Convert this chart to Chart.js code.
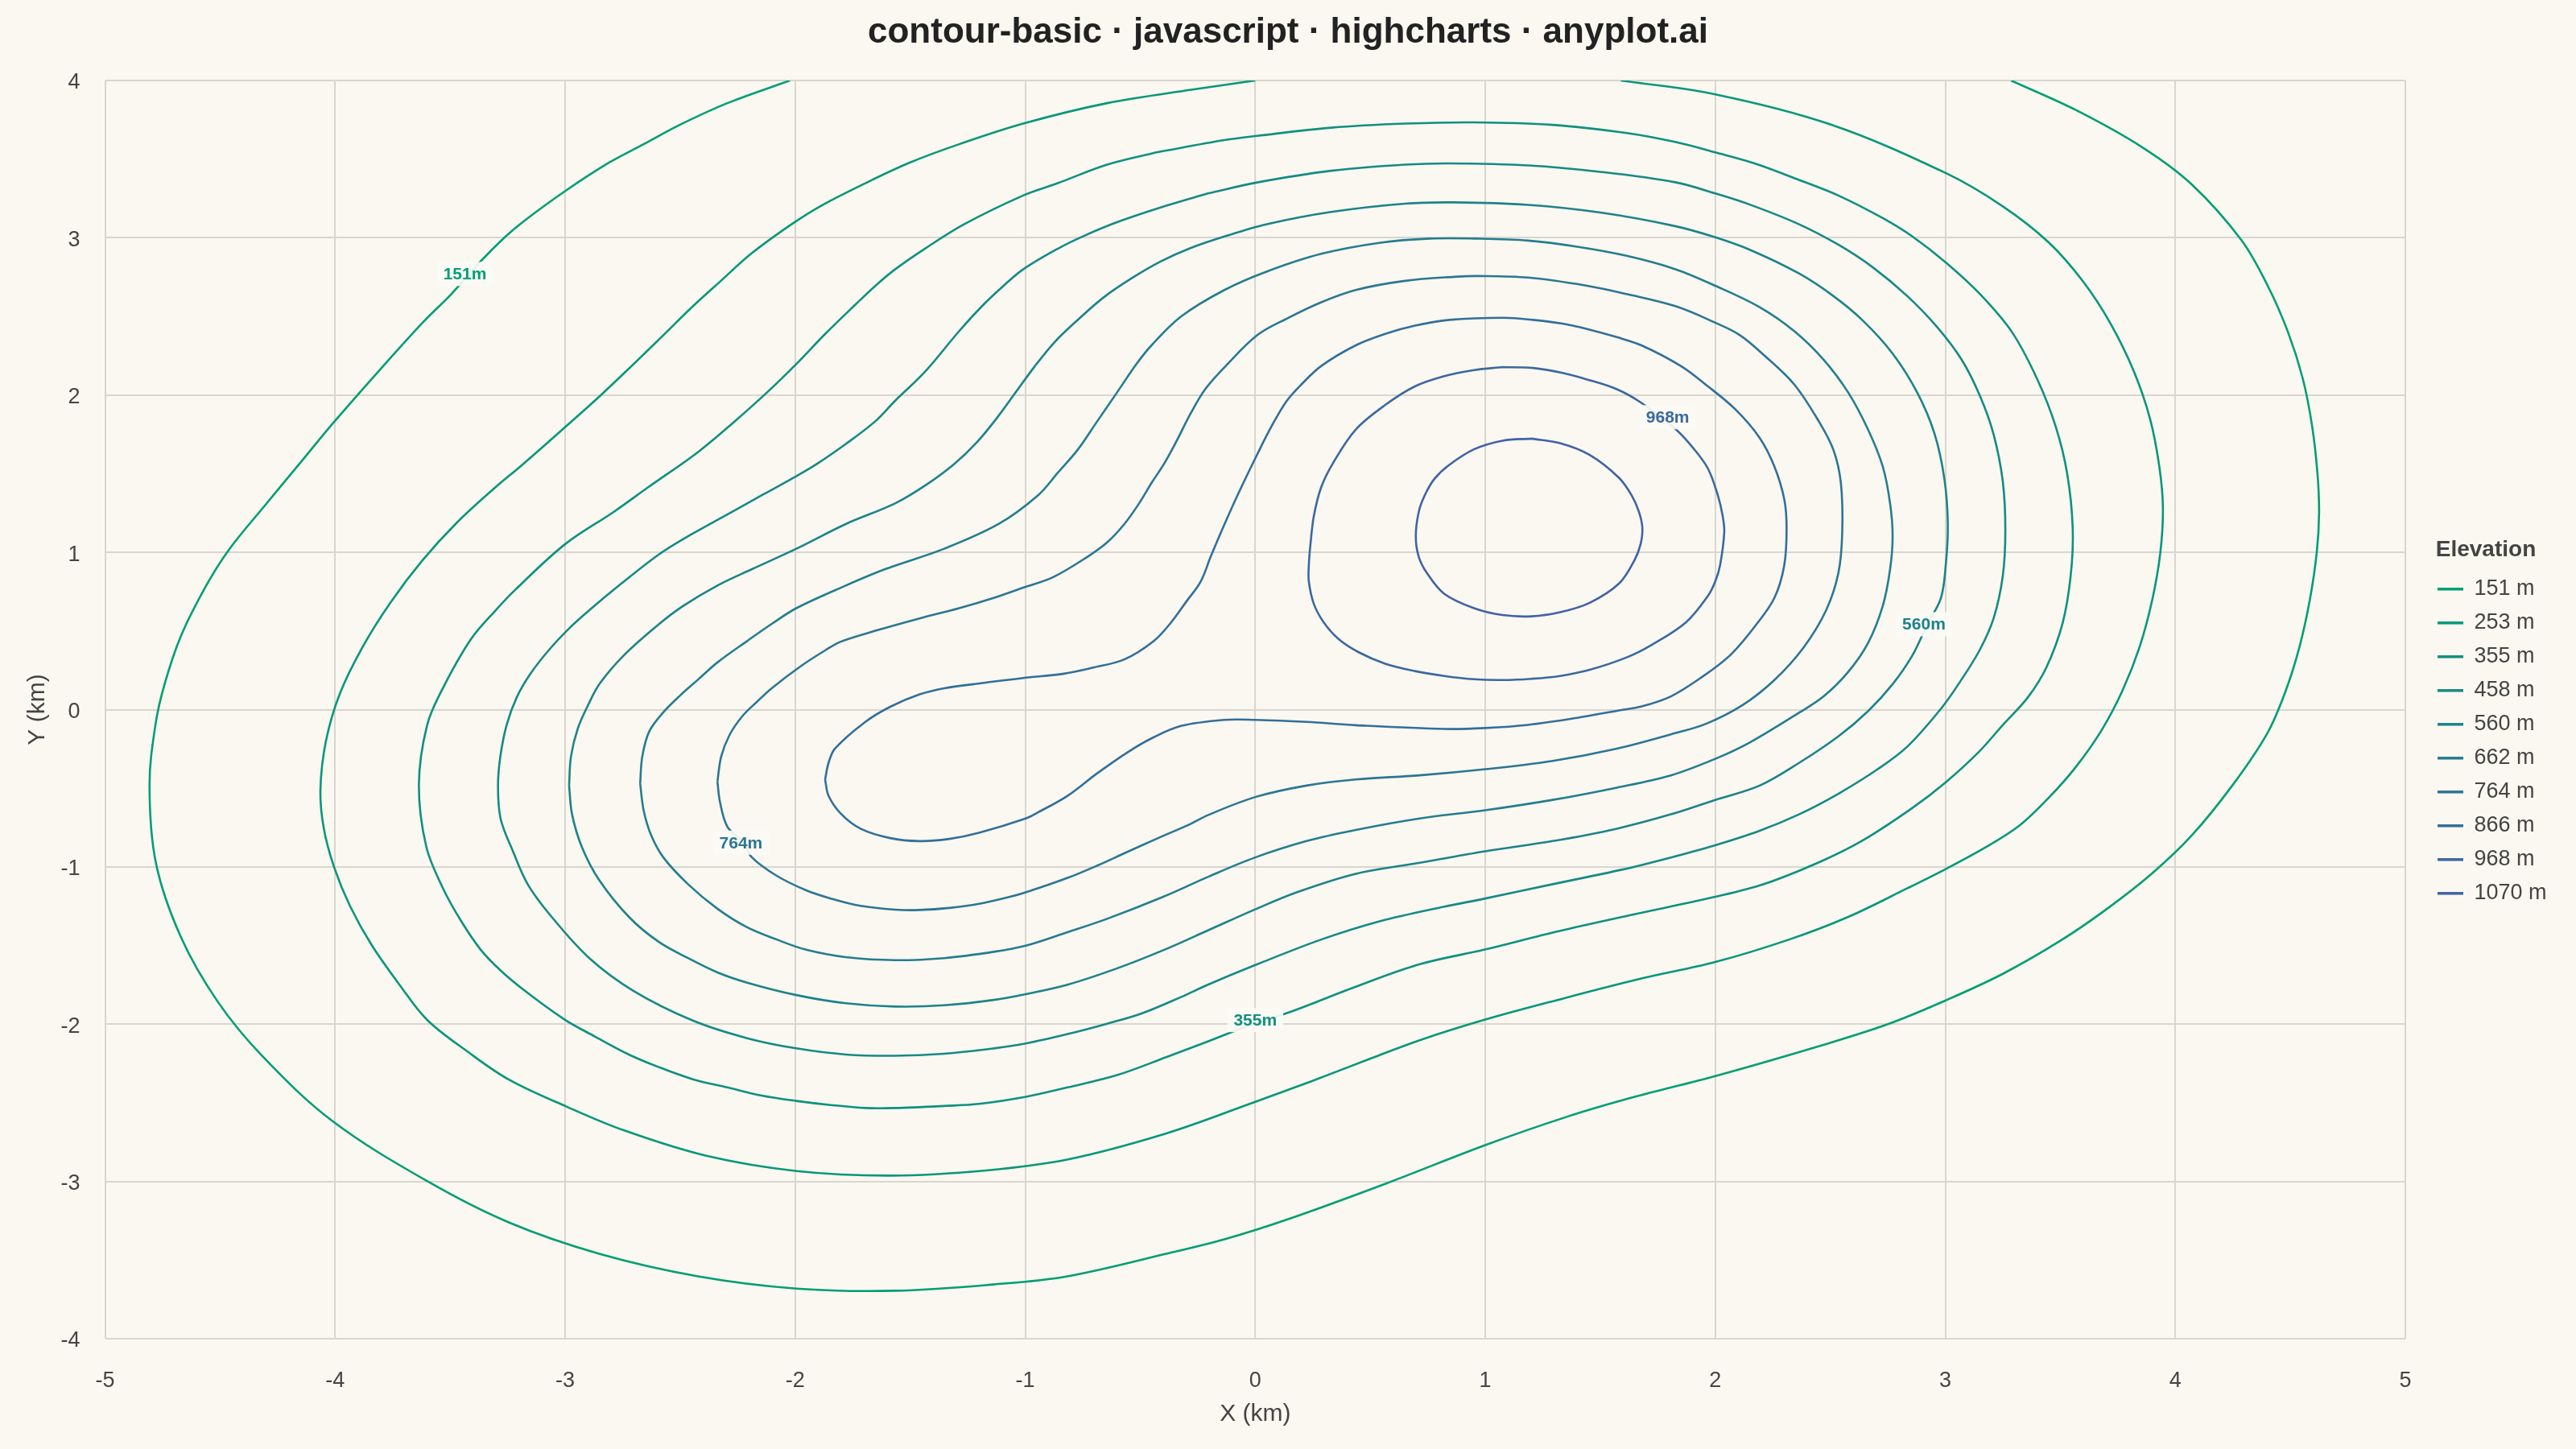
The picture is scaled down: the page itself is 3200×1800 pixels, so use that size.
<!DOCTYPE html>
<html>
<head>
<meta charset="utf-8">
<script src="https://cdn.jsdelivr.net/npm/chart.js@4.4.1/dist/chart.umd.min.js"></script>
<style>
  html, body { margin: 0; padding: 0; background: #faf8f1; }
  #wrap { width: 3200px; height: 1800px; }
</style>
</head>
<body>
<div id="wrap"><canvas id="contour-chart"></canvas></div>
<script>
// contour levels (m) and their line colours
const levels = [151, 253, 355, 458, 560, 662, 764, 866, 968, 1070];
const levelColors = ["#009E73", "#079779", "#0F917E", "#168A84", "#1D8389",
  "#257D8F", "#2C7694", "#336F9A", "#3B699F", "#4262A5"];

// contour paths, [x km, y km]
const c151 = [[3.286,4.0],[3.571,3.81],[3.857,3.575],[4.071,3.34],[4.286,2.988],[4.40,2.70],[4.49,2.40],[4.555,2.10],[4.595,1.80],[4.618,1.50],[4.625,1.25],[4.615,1.0],[4.585,0.70],[4.54,0.40],[4.48,0.12],[4.40,-0.15],[4.25,-0.478],[4.071,-0.801],[3.9,-1.04],[3.7,-1.27],[3.5,-1.47],[3.25,-1.68],[3.0,-1.85],[2.75,-2.0],[2.464,-2.134],[2.0,-2.33],[1.643,-2.465],[1.357,-2.588],[1.0,-2.769],[0.571,-3.012],[0.143,-3.24],[-0.134,-3.368],[-0.387,-3.46],[-0.816,-3.603],[-1.137,-3.655],[-1.566,-3.695],[-1.995,-3.681],[-2.423,-3.603],[-2.852,-3.46],[-3.243,-3.262],[-3.6,-2.998],[-4.011,-2.617],[-4.314,-2.207],[-4.511,-1.856],[-4.671,-1.445],[-4.779,-0.977],[-4.807,-0.478],[-4.78,-0.085],[-4.74,0.17],[-4.67,0.47],[-4.56,0.79],[-4.46,1.02],[-4.31,1.29],[-4.14,1.59],[-4.01,1.82],[-3.8,2.17],[-3.62,2.46],[-3.495,2.642],[-3.367,2.851],[-3.259,3.008],[-3.174,3.112],[-3.002,3.295],[-2.809,3.478],[-2.659,3.595],[-2.509,3.713],[-2.295,3.856],[-2.023,4.0]];
const c253 = [[1.589,4.0],[2.0,3.912],[2.5,3.721],[3.0,3.413],[3.25,3.2],[3.45,2.97],[3.6,2.72],[3.72,2.45],[3.82,2.15],[3.89,1.85],[3.93,1.55],[3.946,1.287],[3.935,1.0],[3.9,0.7],[3.845,0.4],[3.77,0.12],[3.68,-0.13],[3.57,-0.36],[3.45,-0.56],[3.32,-0.74],[3.17,-0.88],[3.0,-1.015],[2.835,-1.136],[2.578,-1.318],[2.321,-1.462],[2.0,-1.605],[1.679,-1.71],[1.315,-1.846],[1.0,-1.971],[0.715,-2.102],[0.501,-2.219],[0.244,-2.363],[0.0,-2.494],[-0.387,-2.695],[-0.814,-2.86],[-1.171,-2.93],[-1.582,-2.963],[-1.993,-2.934],[-2.386,-2.837],[-2.743,-2.676],[-2.993,-2.525],[-3.243,-2.354],[-3.421,-2.178],[-3.6,-1.973],[-3.72,-1.75],[-3.84,-1.5],[-3.935,-1.25],[-4.005,-1.0],[-4.05,-0.75],[-4.064,-0.508],[-4.04,-0.2],[-3.98,0.1],[-3.88,0.4],[-3.76,0.68],[-3.62,0.95],[-3.47,1.19],[-3.302,1.415],[-3.195,1.546],[-3.002,1.794],[-2.852,1.99],[-2.702,2.198],[-2.573,2.381],[-2.445,2.564],[-2.327,2.721],[-2.188,2.903],[-2.016,3.086],[-1.887,3.204],[-1.695,3.347],[-1.502,3.478],[-1.287,3.595],[-1.009,3.726],[-0.644,3.856],[-0.279,3.941],[0.0,4.0]];
const c355 = [[-0.43,3.543],[-0.134,3.621],[0.009,3.648],[0.33,3.7],[0.651,3.726],[0.951,3.734],[1.293,3.718],[1.615,3.666],[1.829,3.608],[2.0,3.543],[2.171,3.473],[2.364,3.368],[2.535,3.269],[2.728,3.125],[2.857,3.008],[3.006,2.838],[3.152,2.64],[3.29,2.4],[3.4,2.1],[3.48,1.8],[3.53,1.5],[3.554,1.15],[3.545,0.85],[3.51,0.55],[3.44,0.27],[3.36,0.08],[3.25,-0.098],[3.143,-0.273],[3.0,-0.464],[2.857,-0.625],[2.643,-0.83],[2.464,-0.962],[2.214,-1.108],[2.0,-1.19],[1.636,-1.305],[1.315,-1.41],[0.994,-1.527],[0.715,-1.619],[0.437,-1.762],[0.158,-1.919],[-0.03,-2.01],[-0.206,-2.11],[-0.387,-2.21],[-0.601,-2.324],[-0.816,-2.402],[-0.998,-2.462],[-1.201,-2.507],[-1.352,-2.52],[-1.566,-2.533],[-1.695,-2.533],[-1.845,-2.514],[-1.995,-2.488],[-2.145,-2.454],[-2.295,-2.402],[-2.445,-2.35],[-2.595,-2.272],[-2.723,-2.193],[-2.874,-2.076],[-3.002,-1.971],[-3.174,-1.789],[-3.281,-1.658],[-3.367,-1.527],[-3.452,-1.345],[-3.53,-1.14],[-3.604,-0.87],[-3.636,-0.478],[-3.6,-0.098],[-3.529,0.144],[-3.409,0.449],[-3.302,0.632],[-3.217,0.762],[-3.002,1.05],[-2.788,1.258],[-2.638,1.415],[-2.423,1.637],[-2.273,1.82],[-2.123,2.016],[-1.995,2.198],[-1.866,2.394],[-1.737,2.577],[-1.652,2.694],[-1.566,2.799],[-1.437,2.93],[-1.266,3.086],[-1.009,3.269],[-0.859,3.347],[-0.644,3.465],[-0.43,3.543]];
const c458 = [[-0.206,3.282],[0.009,3.352],[0.33,3.426],[0.651,3.465],[0.844,3.473],[1.186,3.46],[1.507,3.418],[1.829,3.352],[2.0,3.282],[2.15,3.211],[2.364,3.086],[2.535,2.956],[2.685,2.812],[2.835,2.629],[2.964,2.433],[3.071,2.225],[3.152,1.99],[3.21,1.75],[3.25,1.45],[3.261,1.14],[3.25,0.85],[3.21,0.58],[3.15,0.38],[3.07,0.19],[2.985,0.013],[2.835,-0.235],[2.706,-0.379],[2.535,-0.535],[2.364,-0.666],[2.193,-0.77],[2.0,-0.862],[1.807,-0.94],[1.593,-1.018],[1.293,-1.11],[1.0,-1.201],[0.822,-1.253],[0.544,-1.345],[0.287,-1.462],[0.009,-1.619],[-0.206,-1.749],[-0.323,-1.828],[-0.494,-1.932],[-0.644,-1.997],[-0.816,-2.063],[-0.998,-2.123],[-1.137,-2.154],[-1.352,-2.188],[-1.566,-2.201],[-1.78,-2.193],[-1.995,-2.154],[-2.209,-2.089],[-2.445,-1.977],[-2.702,-1.789],[-2.895,-1.58],[-3.066,-1.305],[-3.163,-1.11],[-3.227,-0.901],[-3.281,-0.692],[-3.292,-0.483],[-3.282,-0.3],[-3.255,-0.1],[-3.21,0.08],[-3.15,0.23],[-3.07,0.38],[-2.98,0.52],[-2.895,0.632],[-2.766,0.789],[-2.595,0.984],[-2.466,1.102],[-2.338,1.206],[-2.145,1.363],[-2.016,1.467],[-1.909,1.559],[-1.78,1.689],[-1.652,1.833],[-1.566,1.963],[-1.437,2.146],[-1.287,2.407],[-1.18,2.577],[-1.094,2.695],[-1.009,2.799],[-0.859,2.93],[-0.751,3.008],[-0.601,3.099],[-0.387,3.204],[-0.206,3.282]];
const c560 = [[-2.983,-0.483],[-2.975,-0.3],[-2.945,-0.12],[-2.9,0.03],[-2.85,0.165],[-2.745,0.345],[-2.595,0.54],[-2.488,0.658],[-2.338,0.789],[-2.188,0.893],[-1.995,1.023],[-1.78,1.18],[-1.566,1.311],[-1.43,1.43],[-1.31,1.56],[-1.21,1.70],[-1.12,1.86],[-1.04,2.02],[-0.96,2.18],[-0.87,2.34],[-0.77,2.48],[-0.66,2.62],[-0.54,2.74],[-0.41,2.85],[-0.28,2.935],[-0.134,3.008],[0.051,3.086],[0.33,3.164],[0.651,3.217],[0.865,3.225],[1.186,3.209],[1.507,3.159],[1.829,3.073],[2.0,3.003],[2.15,2.924],[2.364,2.773],[2.514,2.629],[2.642,2.473],[2.771,2.264],[2.878,2.016],[2.953,1.755],[2.996,1.467],[3.011,1.18],[3.002,0.919],[2.981,0.71],[2.921,0.54],[2.857,0.345],[2.771,0.162],[2.664,-0.01],[2.535,-0.17],[2.364,-0.339],[2.193,-0.483],[2.0,-0.574],[1.807,-0.666],[1.572,-0.757],[1.293,-0.836],[1.0,-0.901],[0.694,-0.979],[0.437,-1.044],[0.18,-1.162],[0.0,-1.27],[-0.2,-1.40],[-0.4,-1.53],[-0.6,-1.645],[-0.816,-1.749],[-0.998,-1.809],[-1.137,-1.846],[-1.352,-1.88],[-1.566,-1.888],[-1.78,-1.867],[-1.995,-1.815],[-2.209,-1.736],[-2.338,-1.671],[-2.466,-1.58],[-2.595,-1.475],[-2.723,-1.318],[-2.852,-1.084],[-2.927,-0.875],[-2.97,-0.666],[-2.983,-0.483]];
const c662 = [[-2.674,-0.47],[-2.665,-0.3],[-2.635,-0.14],[-2.575,-0.02],[-2.5,0.09],[-2.423,0.19],[-2.338,0.30],[-2.209,0.436],[-2.102,0.545],[-1.995,0.645],[-1.78,0.789],[-1.609,0.893],[-1.352,1.023],[-1.116,1.18],[-0.944,1.363],[-0.858,1.507],[-0.773,1.65],[-0.687,1.833],[-0.601,2.016],[-0.516,2.198],[-0.451,2.316],[-0.323,2.499],[-0.134,2.668],[0.051,2.786],[0.287,2.898],[0.544,2.969],[0.758,2.995],[0.951,2.995],[1.186,2.982],[1.4,2.943],[1.615,2.885],[1.829,2.799],[2.0,2.695],[2.193,2.559],[2.343,2.407],[2.471,2.225],[2.578,2.016],[2.664,1.781],[2.728,1.546],[2.76,1.311],[2.771,1.102],[2.76,0.893],[2.728,0.658],[2.664,0.423],[2.578,0.24],[2.471,0.084],[2.364,-0.02],[2.15,-0.209],[2.0,-0.313],[1.807,-0.418],[1.572,-0.496],[1.293,-0.574],[1.0,-0.64],[0.715,-0.692],[0.437,-0.765],[0.223,-0.836],[0.0,-0.94],[-0.2,-1.06],[-0.4,-1.19],[-0.644,-1.33],[-0.816,-1.415],[-0.998,-1.501],[-1.137,-1.54],[-1.352,-1.58],[-1.566,-1.593],[-1.78,-1.574],[-1.952,-1.527],[-2.08,-1.462],[-2.209,-1.384],[-2.338,-1.266],[-2.466,-1.11],[-2.573,-0.94],[-2.627,-0.796],[-2.659,-0.64],[-2.674,-0.47]];
const c764 = [[-2.338,-0.457],[-2.322,-0.3],[-2.285,-0.16],[-2.23,-0.042],[-2.166,0.05],[-2.102,0.136],[-1.973,0.279],[-1.866,0.38],[-1.802,0.432],[-1.652,0.501],[-1.459,0.58],[-1.287,0.645],[-1.137,0.71],[-1.009,0.775],[-0.88,0.841],[-0.73,0.971],[-0.644,1.063],[-0.569,1.18],[-0.505,1.311],[-0.451,1.441],[-0.398,1.559],[-0.344,1.702],[-0.28,1.885],[-0.215,2.042],[-0.12,2.198],[0.009,2.381],[0.137,2.486],[0.287,2.59],[0.437,2.668],[0.651,2.726],[0.865,2.752],[0.972,2.757],[1.186,2.747],[1.443,2.695],[1.615,2.642],[1.829,2.564],[2.0,2.46],[2.107,2.381],[2.214,2.251],[2.343,2.068],[2.45,1.833],[2.514,1.65],[2.546,1.441],[2.552,1.128],[2.535,0.867],[2.482,0.632],[2.385,0.397],[2.257,0.188],[2.12,0.03],[1.96,-0.09],[1.807,-0.157],[1.572,-0.248],[1.293,-0.326],[1.0,-0.379],[0.715,-0.418],[0.437,-0.444],[0.223,-0.483],[0.0,-0.556],[-0.206,-0.671],[-0.28,-0.726],[-0.43,-0.822],[-0.558,-0.906],[-0.687,-0.992],[-0.816,-1.07],[-0.998,-1.162],[-1.073,-1.193],[-1.201,-1.235],[-1.33,-1.261],[-1.459,-1.274],[-1.566,-1.272],[-1.716,-1.248],[-1.845,-1.201],[-1.952,-1.149],[-2.08,-1.057],[-2.188,-0.94],[-2.23,-0.84],[-2.295,-0.744],[-2.327,-0.587],[-2.338,-0.457]];
const c866 = [[-1.87,-0.444],[-1.855,-0.548],[-1.802,-0.661],[-1.716,-0.757],[-1.587,-0.817],[-1.459,-0.836],[-1.33,-0.822],[-1.201,-0.783],[-0.998,-0.692],[-0.944,-0.653],[-0.816,-0.548],[-0.687,-0.405],[-0.558,-0.274],[-0.451,-0.183],[-0.323,-0.104],[-0.134,-0.065],[0.0,-0.065],[0.223,-0.078],[0.437,-0.099],[0.822,-0.123],[1.0,-0.117],[1.186,-0.097],[1.4,-0.052],[1.582,-0.005],[1.68,0.02],[1.807,0.084],[1.936,0.201],[2.064,0.345],[2.171,0.527],[2.257,0.71],[2.3,0.919],[2.31,1.154],[2.3,1.337],[2.257,1.546],[2.193,1.728],[2.086,1.911],[1.957,2.068],[1.85,2.185],[1.679,2.316],[1.572,2.368],[1.443,2.42],[1.336,2.454],[1.208,2.478],[1.079,2.491],[0.844,2.478],[0.694,2.441],[0.565,2.389],[0.437,2.316],[0.287,2.185],[0.201,2.068],[0.137,1.963],[0.073,1.807],[0.009,1.624],[-0.077,1.363],[-0.141,1.154],[-0.194,0.971],[-0.237,0.815],[-0.301,0.684],[-0.366,0.554],[-0.441,0.436],[-0.569,0.319],[-0.708,0.266],[-0.837,0.227],[-1.009,0.201],[-1.223,0.162],[-1.352,0.136],[-1.459,0.097],[-1.587,0.018],[-1.695,-0.078],[-1.827,-0.248],[-1.855,-0.339],[-1.87,-0.444]];
const c968 = [[1.075,2.178],[1.208,2.172],[1.336,2.141],[1.443,2.099],[1.572,2.037],[1.679,1.95],[1.829,1.781],[1.904,1.663],[1.968,1.533],[2.011,1.363],[2.032,1.232],[2.039,1.128],[2.021,0.919],[2.0,0.815],[1.968,0.723],[1.872,0.554],[1.722,0.41],[1.615,0.332],[1.454,0.253],[1.325,0.214],[1.201,0.196],[1.075,0.188],[0.951,0.193],[0.822,0.214],[0.694,0.245],[0.565,0.292],[0.448,0.366],[0.362,0.449],[0.298,0.554],[0.255,0.671],[0.233,0.815],[0.233,0.919],[0.24,1.05],[0.255,1.232],[0.287,1.415],[0.34,1.572],[0.437,1.781],[0.565,1.937],[0.694,2.055],[0.822,2.12],[0.951,2.159],[1.075,2.178]];
const c1070 = [[1.201,1.723],[1.325,1.694],[1.454,1.619],[1.582,1.473],[1.636,1.363],[1.668,1.258],[1.683,1.154],[1.675,1.05],[1.647,0.945],[1.582,0.802],[1.454,0.679],[1.325,0.619],[1.201,0.593],[1.075,0.601],[0.951,0.645],[0.822,0.736],[0.747,0.867],[0.711,0.971],[0.698,1.102],[0.711,1.258],[0.737,1.363],[0.779,1.467],[0.839,1.551],[0.951,1.655],[1.075,1.71],[1.201,1.723]];
const contourPaths = [c151, c253, c355, c458, c560, c662, c764, c866, c968, c1070];

// inline contour labels: level index and position (km)
const labelLevelIdx = [0, 2, 4, 6, 8];
const labelX = [-3.436, 0.0, 2.907, -2.236, 1.793];
const labelY = [2.77, -1.974, 0.543, -0.846, 1.859];

// axis ticks
const xTicks = [-5, -4, -3, -2, -1, 0, 1, 2, 3, 4, 5];
const yTicks = [-4, -3, -2, -1, 0, 1, 2, 3, 4];

const BG = "#faf8f1";
const TEXT = "#444444";
Chart.defaults.font.family = '"Liberation Sans", Arial, Helvetica, sans-serif';

const bgPlugin = {
  id: "bg",
  beforeDraw(chart) {
    const c = chart.ctx;
    c.save();
    c.fillStyle = BG;
    c.fillRect(0, 0, chart.width, chart.height);
    c.restore();
  },
};

const contourLabels = {
  id: "contourLabels",
  afterDatasetsDraw(chart) {
    const c = chart.ctx;
    const xs = chart.scales.x;
    const ys = chart.scales.y;
    c.save();
    c.font = 'bold 21px "Liberation Sans", Arial, sans-serif';
    c.textAlign = "center";
    c.textBaseline = "middle";
    labelLevelIdx.forEach((li, i) => {
      const px = xs.getPixelForValue(labelX[i]);
      const py = ys.getPixelForValue(labelY[i]);
      const text = levels[li] + "m";
      const w = c.measureText(text).width;
      c.fillStyle = "rgba(251, 250, 245, 0.92)";
      c.fillRect(px - w / 2 - 8, py - 15, w + 16, 30);
      c.fillStyle = levelColors[li];
      c.fillText(text, px, py + 1);
    });
    c.restore();
  },
};

const datasets = contourPaths.map((path, i) => ({
  label: levels[i] + " m",
  data: path.map((p) => ({ x: p[0], y: p[1] })),
  showLine: true,
  borderColor: levelColors[i],
  backgroundColor: levelColors[i],
  borderWidth: 2.6,
  pointRadius: 0,
  pointHoverRadius: 0,
  tension: 0.35,
  fill: false,
}));

const ctx = document.getElementById("contour-chart").getContext("2d");
const contourChart = new Chart(ctx, {
  type: "scatter",
  data: { datasets: datasets },
  options: {
    responsive: true,
    maintainAspectRatio: false,
    devicePixelRatio: 1,
    animation: false,
    layout: { padding: 0 },
    scales: {
      x: {
        type: "linear",
        min: -5,
        max: 5,
        afterBuildTicks: (s) => { s.ticks = xTicks.map((v) => ({ value: v })); },
        afterFit: (s) => { s.height = 137; },
        grid: { color: "#d9d6cf", lineWidth: 2, drawTicks: false },
        border: { display: false },
        ticks: { color: TEXT, font: { size: 27 }, padding: 36 },
        title: {
          display: true,
          text: "X (km)",
          color: TEXT,
          font: { size: 30 },
          padding: { top: 0, bottom: 25 },
        },
      },
      y: {
        type: "linear",
        min: -4,
        max: 4,
        afterBuildTicks: (s) => { s.ticks = yTicks.map((v) => ({ value: v })); },
        afterFit: (s) => { s.width = 130.6; },
        grid: { color: "#d9d6cf", lineWidth: 2, drawTicks: false },
        border: { display: false },
        ticks: { color: TEXT, font: { size: 27 }, padding: 31, labelOffset: 3 },
        title: {
          display: true,
          text: "Y (km)",
          color: TEXT,
          font: { size: 30 },
          padding: { top: 29, bottom: 0 },
        },
      },
      // empty spacers: one between plot and legend, one outside the legend
      gap: {
        type: "linear",
        position: "right",
        display: true,
        weight: 0,
        afterFit: (s) => { s.width = 25; },
        grid: { display: false },
        border: { display: false },
        ticks: { display: false },
      },
      edge: {
        type: "linear",
        position: "right",
        display: true,
        weight: 2000,
        afterFit: (s) => { s.width = 37; },
        grid: { display: false },
        border: { display: false },
        ticks: { display: false },
      },
    },
    plugins: {
      title: {
        display: true,
        text: "contour-basic · javascript · highcharts · anyplot.ai",
        color: "#222222",
        font: { size: 44, weight: "bold" },
        padding: { top: 14, bottom: 33.2 },
      },
      legend: {
        display: true,
        position: "right",
        align: "center",
        fullSize: false,
        maxWidth: 150,
        title: {
          display: true,
          text: "Elevation",
          color: TEXT,
          position: "center",
          font: { size: 28, weight: "bold" },
          padding: { top: 45, bottom: 0 },
        },
        labels: {
          color: TEXT,
          font: { size: 27 },
          padding: 15,
          usePointStyle: true,
          pointStyle: "line",
          pointStyleWidth: 32,
          generateLabels: (chart) =>
            Chart.defaults.plugins.legend.labels.generateLabels(chart).map((item) => {
              item.lineWidth = 3.5;
              return item;
            }),
        },
      },
      tooltip: { enabled: false },
    },
  },
  plugins: [bgPlugin, contourLabels],
});
</script>
</body>
</html>
